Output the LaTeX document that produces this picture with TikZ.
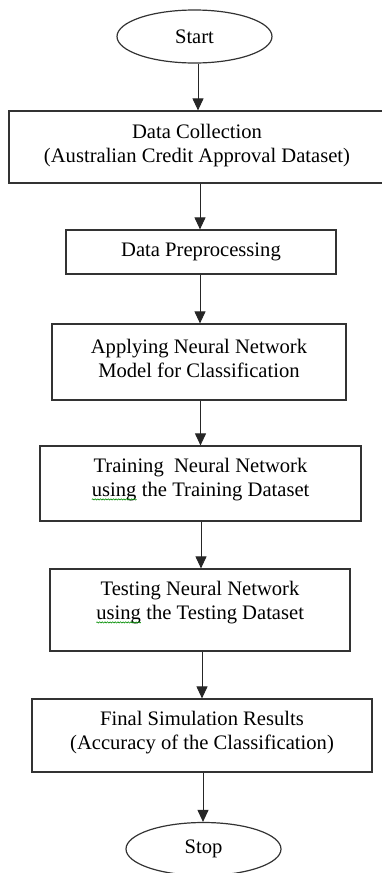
\documentclass[tikz,border=0pt]{standalone}
\usepackage{fontspec}
\setmainfont{Liberation Serif}
\usetikzlibrary{shapes.geometric,arrows.meta,decorations.pathmorphing}
\newcommand\flowfont{\fontsize{20.6}{24}\selectfont}
% word with a green wavy underline
\newcommand\spellmark[1]{\tikz[baseline=(w.base),x=1pt,y=1pt]{%
  \node[inner sep=0pt,outer sep=0pt] (w) {#1};
  \draw[green!55!black,line width=0.6pt,decorate,
        decoration={snake,amplitude=0.6pt,segment length=2.6pt}]
    ([yshift=-2.5pt]w.base west) -- ([yshift=-2.5pt]w.base east);}}
\begin{document}
\begin{tikzpicture}[x=1pt,y=-1pt,
  box/.style={draw=black!80, line width=1.2pt, rectangle, inner sep=0pt},
  term/.style={draw=black!80, line width=1.2pt, ellipse, inner sep=0pt,
               minimum width=155pt, minimum height=53pt, font=\flowfont},
  txt/.style={align=center, font=\flowfont, inner sep=0pt},
  arr/.style={draw=black!85, line width=1pt, -{Triangle[width=11pt,length=12pt]}},
]
\useasboundingbox (0,0) rectangle (381,873);

% terminals
\node[term] (start) at (194.5,36.5) {Start};
\node[term] (stop)  at (203.5,849) {Stop};

% process boxes
\node[box, minimum width=374pt, minimum height=72pt] (b1) at (196,147) {};
\node[box, minimum width=270pt, minimum height=44pt] (b2) at (201,252) {};
\node[box, minimum width=294pt, minimum height=76pt] (b3) at (199,362) {};
\node[box, minimum width=321pt, minimum height=75pt] (b4) at (200.5,483.5) {};
\node[box, minimum width=300pt, minimum height=82pt] (b5) at (200,610) {};
\node[box, minimum width=340pt, minimum height=73pt] (b6) at (202,735.5) {};

% box texts
\node[txt] (t1) at (197,146) {Data Collection\\(Australian Credit Approval Dataset)};
\node[txt] (t2) at (201,252) {Data Preprocessing};
\node[txt] (t3) at (199,358.5) {Applying Neural Network\\Model for Classification};
\node[txt] (t4) at (200.5,480) {Training\ \ Neural Network\\\spellmark{using} the Training Dataset};
\node[txt] (t5) at (200,603) {Testing Neural Network\\\spellmark{using} the Testing Dataset};
\node[txt] (t6) at (202,733) {Final Simulation Results\\(Accuracy of the Classification)};

% connectors
\draw[arr] (start.south -| 198,0) -- (b1.north -| 198,0);
\draw[arr] (b1.south -| 200,0) -- (b2.north -| 200,0);
\draw[arr] (b2.south -| 200,0) -- (b3.north -| 200,0);
\draw[arr] (b3.south -| 200.5,0) -- (b4.north -| 200.5,0);
\draw[arr] (b4.south -| 201,0) -- (b5.north -| 201,0);
\draw[arr] (b5.south -| 202,0) -- (b6.north -| 202,0);
\draw[arr] (b6.south -| 203,0) -- (stop.north -| 203,0);
\end{tikzpicture}
\end{document}
